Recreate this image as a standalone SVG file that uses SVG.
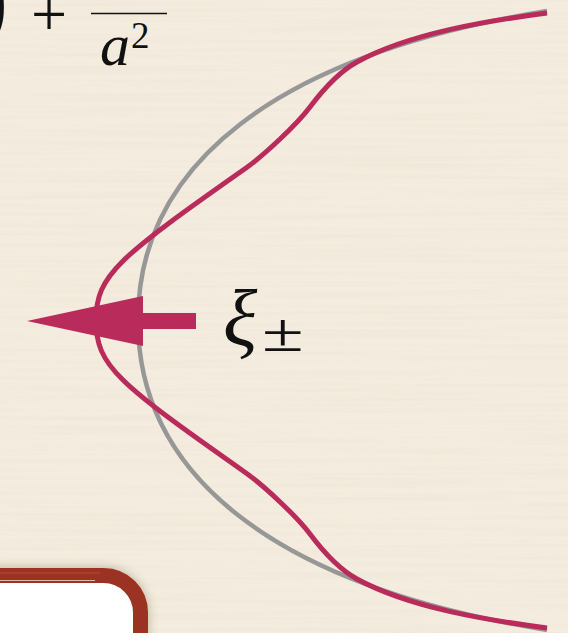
<svg xmlns="http://www.w3.org/2000/svg" width="568" height="633" viewBox="0 0 568 633">
  <style>
    .math { font-family: "Liberation Serif", "Times New Roman", serif; fill: #111; }
    .it { font-style: italic; }
    .curve { fill: none; stroke-linecap: butt; stroke-linejoin: round; }
  </style>
  <defs>
    <filter id="paper" x="0" y="0" width="100%" height="100%">
      <feTurbulence type="fractalNoise" baseFrequency="0.004 0.25" numOctaves="2" seed="3" result="n"/>
      <feColorMatrix type="matrix" values="0 0 0 0 0.55  0 0 0 0 0.48  0 0 0 0 0.38  0 0 0 0.9 -0.35" in="n"/>
    </filter>
    <filter id="shadow" x="-30%" y="-30%" width="160%" height="160%">
      <feGaussianBlur stdDeviation="5"/>
    </filter>
  </defs>

  <rect x="0" y="0" width="568" height="633" fill="#f4ecde"/>
  <rect x="0" y="0" width="568" height="633" filter="url(#paper)" opacity="0.2"/>

  <g id="formula">
    <text class="math" x="-25" y="31" font-size="100">)</text>
    <text class="math" x="31" y="36" font-size="64">+</text>
    <line x1="91" y1="13.5" x2="167" y2="13.5" stroke="#111" stroke-width="1.6"/>
    <text class="math it" x="100" y="65" font-size="60">a</text>
    <text class="math" x="131" y="48" font-size="37">2</text>
  </g>

  <g id="box">
    <rect x="-50" y="575.5" width="190.5" height="120" rx="37" fill="none" stroke="#7a6a50" stroke-width="18" opacity="0.35" filter="url(#shadow)"/>
    <rect x="-50" y="575.5" width="190.5" height="120" rx="37" fill="#ffffff" stroke="#9c3322" stroke-width="15"/>
    <path d="M0,573 H100" stroke="#b85545" stroke-width="1.2" fill="none" opacity="0.7"/>
    <path d="M0,580.5 H95" stroke="#f2d8d0" stroke-width="1" fill="none" opacity="0.8"/>
  </g>

  <g id="connectors">
    <path id="gray-curve" class="curve" d="M547,11 C275,55 138,165 138,320.5 C138,476 275,586 547,630" stroke="#979797" stroke-width="4.5"/>
    <path id="crimson-curve" class="curve" d="M547,13 C487.6,20.8 409.5,33.2 357,62 C341.3,70.6 324.4,87.8 310,107 C296.8,124.6 264,155.2 246,168 C118,258 96,275 96,320.5 C96,366 118,383 246,473 C264,485.8 296.8,516.4 310,534 C324.4,553.2 341.3,570.4 357,579 C409.5,607.8 487.6,620.2 547,628" stroke="#b92b5b" stroke-width="5"/>
    <polygon id="arrow" points="27,321 143,296 143,313 196,313 196,329 143,329 143,346" fill="#b92b5b"/>
  </g>

  <g id="label-xi">
    <text class="math it" x="223" y="345" font-size="80">ξ</text>
    <text class="math" transform="translate(262,351) scale(1.38,1)" font-size="55">±</text>
  </g>
</svg>
